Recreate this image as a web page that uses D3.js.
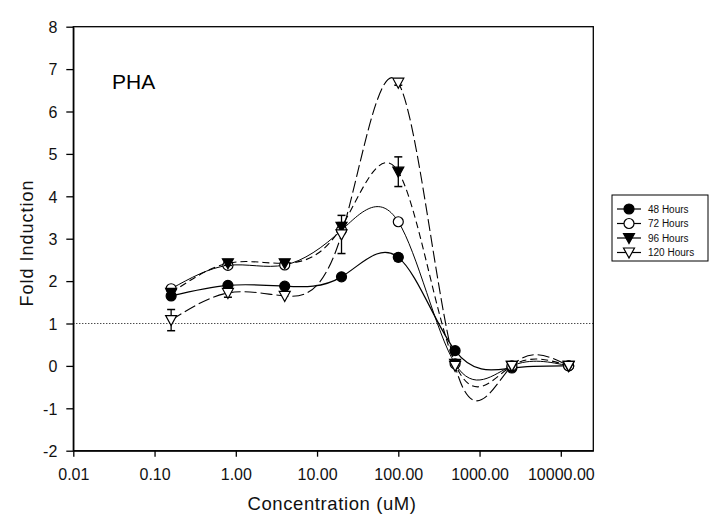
<!DOCTYPE html>
<html><head><meta charset="utf-8">
<script src="https://cdn.jsdelivr.net/npm/d3@7"></script>
<style>body{margin:0;background:#fff}svg{display:block}</style>
</head><body>
<svg id="c" width="725" height="531"></svg>
<script>
// ---- data ----
const concentrations = [0.16, 0.8, 4, 20, 100, 500, 2500, 12500];
const seriesNames = ["48 Hours", "72 Hours", "96 Hours", "120 Hours"];
const hours48  = [1.65, 1.90, 1.88, 2.10, 2.56, 0.36, -0.05, 0.00];
const hours72  = [1.82, 2.37, 2.38, 3.20, 3.40, 0.05, 0.00, 0.00];
const hours96  = [1.72, 2.42, 2.42, 3.28, 4.58, 0.05, 0.00, 0.00];
const hours120 = [1.08, 1.72, 1.65, 3.10, 6.68, 0.00, 0.00, 0.00];
const err48  = [0, 0, 0, 0, 0.08, 0, 0, 0];
const err72  = [0, 0, 0, 0, 0, 0, 0, 0];
const err96  = [0, 0.05, 0, 0.1, 0.35, 0, 0, 0];
const err120 = [0.25, 0.1, 0, 0.45, 0.06, 0, 0, 0];
const xTicks = [0.01, 0.1, 1, 10, 100, 1000, 10000];
const yTicks = [-2, -1, 0, 1, 2, 3, 4, 5, 6, 7, 8];
const refLine = 1;

const svg = d3.select("#c");
const L = 73.3, R = 593.3, T = 26.7, B = 450.7;
const x = d3.scaleLog().domain([0.01, Math.pow(10, 4.4)]).range([L, R]);
const y = d3.scaleLinear().domain([-2, 8]).range([B, T]);
const font = "'Liberation Sans', Arial, sans-serif";

// frame
svg.append("rect").attr("x", L).attr("y", T).attr("width", R - L).attr("height", B - T)
  .attr("fill", "none").attr("stroke", "#000").attr("stroke-width", 1.3);

// axes
const gy = svg.append("g").attr("transform", `translate(${L},0)`)
  .call(d3.axisLeft(y).tickValues(yTicks).tickSize(7).tickSizeOuter(0).tickPadding(9).tickFormat(d => String(d)));
const gx = svg.append("g").attr("transform", `translate(0,${B})`)
  .call(d3.axisBottom(x).tickValues(xTicks).tickSize(6).tickSizeOuter(0).tickPadding(12).tickFormat(d => d.toFixed(2)));
[gy, gx].forEach(g => {
  g.select(".domain").attr("stroke", "#000").attr("stroke-width", 1.3);
  g.selectAll(".tick line").attr("stroke", "#000").attr("stroke-width", 1.3);
  g.selectAll("text").attr("font-family", font).attr("font-size", 16).attr("fill", "#111");
});
gy.selectAll("text").attr("dy", "0.36em");

// reference dotted line
svg.append("line").attr("x1", L).attr("x2", R).attr("y1", y(refLine)).attr("y2", y(refLine))
  .attr("stroke", "#000").attr("stroke-width", 1).attr("stroke-dasharray", "1,2");

// titles
svg.append("text").attr("x", 332).attr("y", 510).attr("text-anchor", "middle")
  .attr("font-family", font).attr("font-size", 18.5).attr("letter-spacing", 0.6).attr("fill", "#111")
  .text("Concentration (uM)");
svg.append("text").attr("transform", "translate(33,243) rotate(-90)").attr("text-anchor", "middle")
  .attr("font-family", font).attr("font-size", 18).attr("letter-spacing", 1).attr("fill", "#111")
  .text("Fold Induction");
svg.append("text").attr("x", 112).attr("y", 89).attr("font-family", font).attr("font-size", 21)
  .attr("fill", "#000").text("PHA");

// series
const series = [
  {name: seriesNames[0], vals: hours48, err: err48, shape: "circle", fill: "#000", dash: null, w: 1.2},
  {name: seriesNames[1], vals: hours72, err: err72, shape: "circle", fill: "#fff", dash: null, w: 1},
  {name: seriesNames[2], vals: hours96, err: err96, shape: "tri", fill: "#000", dash: "7,4", w: 1.1},
  {name: seriesNames[3], vals: hours120, err: err120, shape: "tri", fill: "#fff", dash: "12,4", w: 1.1}
];
const line = d3.line().x(d => x(d.c)).y(d => y(d.v)).curve(d3.curveNatural);
series.forEach(s => {
  s.pts = concentrations.map((c, i) => ({c, v: s.vals[i], e: s.err[i]}));
  svg.append("path").attr("d", line(s.pts)).attr("fill", "none").attr("stroke", "#000")
    .attr("stroke-width", s.w).attr("stroke-dasharray", s.dash);
});
function marker(g, s, cx, cy) {
  if (s.shape === "circle") {
    g.append("circle").attr("cx", cx).attr("cy", cy).attr("r", 5)
      .attr("fill", s.fill).attr("stroke", "#000").attr("stroke-width", 1.2);
  } else {
    g.append("path").attr("d", `M${cx-5.5},${cy-4.5}L${cx+5.5},${cy-4.5}L${cx},${cy+5.5}Z`)
      .attr("fill", s.fill).attr("stroke", "#000").attr("stroke-width", 1.2);
  }
}
series.forEach(s => {
  const g = svg.append("g");
  s.pts.forEach(p => {
    if (p.e > 0) {
      const x0 = x(p.c), y1 = y(p.v + p.e), y2 = y(p.v - p.e);
      g.append("line").attr("x1", x0).attr("x2", x0).attr("y1", y1).attr("y2", y2).attr("stroke", "#000").attr("stroke-width", 1.3);
      [y1, y2].forEach(yy => g.append("line").attr("x1", x0 - 4).attr("x2", x0 + 4).attr("y1", yy).attr("y2", yy).attr("stroke", "#000").attr("stroke-width", 1.5));
    }
    marker(g, s, x(p.c), y(p.v));
  });
});

// legend
const lg = svg.append("g");
lg.append("rect").attr("x", 612).attr("y", 195).attr("width", 96).attr("height", 66)
  .attr("fill", "#fff").attr("stroke", "#000").attr("stroke-width", 1);
series.forEach((s, i) => {
  const yy = 209 + i * 14.5;
  lg.append("line").attr("x1", 617).attr("x2", 641).attr("y1", yy).attr("y2", yy).attr("stroke", "#000").attr("stroke-width", 1.2);
  marker(lg, s, 629, yy);
  lg.append("text").attr("x", 648).attr("y", yy + 3.5).attr("font-family", font).attr("font-size", 10)
    .attr("fill", "#111").text(s.name);
});
</script>
</body></html>
